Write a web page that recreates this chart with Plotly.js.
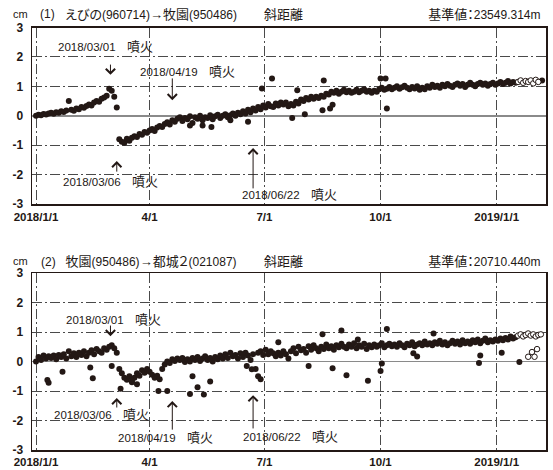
<!DOCTYPE html>
<html><head><meta charset="utf-8">
<script src="https://cdn.plot.ly/plotly-3.0.1.min.js"></script>
<style>
html,body{margin:0;padding:0;background:#fff;}
#chart{width:553px;height:470px;}
#chart text{font-feature-settings:"palt";}
</style>
</head><body><div id="chart"></div>
<script>
// ---- data (cm), observations every STEP_DAYS days starting START ----
const START = [2018, 0, 1];
const STEP_DAYS = 2;

// (1) えびの→牧園 : regular solution values, day 0 .. day 380
const topVals = [
 0.00,0.03,0.02,0.06,0.04,0.08,0.10,0.07,0.12,0.10,0.15,0.13,0.18,0.50,0.20,0.17,0.25,0.22,0.30,0.27,
 0.33,0.38,0.35,0.45,0.50,0.48,0.58,0.62,0.68,0.92,0.85,0.65,0.28,
 -0.80,-0.88,-0.92,-0.78,-0.85,-0.75,-0.70,-0.72,-0.62,-0.65,-0.55,-0.58,-0.50,-0.45,-0.52,-0.40,-0.35,-0.38,
 -0.28,-0.22,-0.30,-0.15,-0.20,-0.10,-0.05,-0.18,-0.08,-0.12,-0.02,-0.25,-0.05,-0.10,0.00,-0.15,-0.05,-0.08,
 0.02,-0.12,-0.02,0.03,-0.08,0.00,0.05,-0.05,0.02,0.08,0.00,0.10,0.05,0.15,0.08,0.20,0.12,0.25,0.18,0.30,0.22,0.35,
 0.28,0.40,0.32,0.30,0.42,0.35,0.45,0.38,0.45,0.32,
 0.40,0.35,0.48,0.42,0.55,0.50,0.60,0.55,0.65,0.58,
 0.65,0.60,0.68,0.65,0.75,0.72,0.82,0.78,0.85,0.75,
 0.82,0.88,0.80,0.85,0.78,0.82,0.88,0.80,0.85,0.90,
 0.82,0.85,0.78,0.85,0.82,0.90,0.95,0.88,0.92,0.98,
 0.90,0.95,1.00,0.92,0.97,1.02,0.95,0.90,0.98,0.93,
 1.00,0.88,0.95,0.90,1.00,0.95,1.05,0.98,1.02,0.95,
 1.05,1.00,1.08,1.02,0.98,1.05,1.10,1.02,1.08,0.98,
 1.05,1.12,1.05,1.00,1.08,1.12,1.05,1.10,1.02,1.08,
 1.12,1.05,1.10,1.15,1.08,1.12,1.18,1.10,1.15,1.12
];
// (1) scattered single days
const topExtraDays = [122,132,139,154,168,179,187,203,207,213,227,228,233,235,273,277,278,401];
const topExtraVals = [-0.33,-0.33,-0.38,-0.15,-0.20,0.93,1.27,-0.08,0.87,0.05,0.19,1.20,0.25,0.37,1.27,1.27,0.25,1.20];
// (1) preliminary (rapid) solutions
const topOpenDays = [382,384,386,388,390,392,394,396,398];
const topOpenVals = [1.15,1.20,1.12,1.18,1.15,1.20,1.10,1.22,1.15];

// (2) 牧園→都城２ : regular solution values, day 0 .. day 380
const botVals = [
 0.00,0.15,0.05,0.20,0.10,0.18,0.12,0.20,0.08,0.22,0.15,0.25,0.10,0.35,0.18,0.28,0.15,0.30,0.22,0.35,
 0.18,0.30,0.38,0.25,0.42,0.35,0.30,0.45,0.40,0.50,0.55,0.45,0.30,
 -0.25,-0.40,-0.55,-0.62,-0.50,-0.70,-0.55,-0.40,-0.48,-0.30,-0.38,-0.25,-0.35,-0.45,-0.55,-0.48,-0.60,-0.25,-0.10,0.00,
 -0.05,0.08,0.02,0.10,0.05,0.12,-0.02,0.08,0.00,0.12,0.05,0.15,0.02,0.10,0.18,0.05,0.12,0.00,0.15,0.08,
 0.20,0.10,0.25,0.12,0.30,0.18,0.22,0.10,0.28,0.15,0.30,0.20,0.05,0.25,-0.25,0.30,0.35,0.22,
 0.40,0.25,0.35,0.28,0.18,0.30,0.20,0.35,0.25,0.10,
 0.35,0.45,0.28,0.50,0.38,0.42,0.30,0.52,0.40,0.55,
 0.45,0.35,0.50,0.42,0.58,0.45,0.52,0.40,0.55,0.48,
 0.60,0.50,0.45,0.58,0.50,0.62,0.45,0.55,0.50,0.60,
 0.42,0.55,0.48,0.58,0.50,0.55,0.62,0.48,0.55,0.60,
 0.52,0.58,0.50,0.62,0.55,0.48,0.60,0.55,0.65,0.52,
 0.58,0.62,0.55,0.68,0.58,0.62,0.55,0.65,0.60,0.70,
 0.58,0.65,0.55,0.62,0.70,0.60,0.68,0.58,0.72,0.62,
 0.68,0.60,0.72,0.65,0.75,0.62,0.70,0.78,0.65,0.72,
 0.68,0.75,0.70,0.78,0.72,0.80,0.75,0.85,0.78,0.82
];
const botExtraDays = [9,10,21,43,45,60,67,76,80,97,104,122,124,128,133,138,167,171,176,178,192,216,227,235,242,246,255,263,273,274,278,299,302,315,351,352,369,383];
const botExtraVals = [-0.63,-0.72,-0.35,-0.20,-0.57,-0.15,-0.92,-0.65,-0.77,-1.00,-1.00,-1.10,-0.50,-0.87,-1.12,-0.68,-0.15,-0.26,-0.50,-0.60,0.65,-0.15,0.92,-0.23,1.05,-0.47,0.75,-0.65,-0.32,-0.07,1.10,0.28,0.17,0.95,-0.05,0.20,0.30,-0.02];
const botOpenDays = [382,384,386,388,390,392,394,396,398,400,390,393,395,397];
const botOpenVals = [0.88,0.92,0.85,0.90,0.95,0.88,0.92,0.85,0.90,0.92,0.16,0.32,0.16,0.42];

// axis labels
const xTickDays = [0, 90, 181, 273, 365];
const xTickText = ['2018/1/1', '4/1', '7/1', '10/1', '2019/1/1'];
const yTickVals = [-3, -2, -1, 0, 1, 2, 3];
const yTickText = ['-3', '-2', '-1', '0', '1', '2', '3'];

// eruption labels: [date text, text-center day, text value, arrow day, arrow tail value, arrow head value]
const topEvents = [
  ['2018/03/01', 54.7, 2.34, 59, 1.79, 1.39],
  ['2018/04/19', 120, 1.49, 108, 1.32, 0.53],
  ['2018/03/06', 59.2, -2.22, 64, -1.95, -1.54],
  ['2018/06/22', 200.9, -2.69, 172, -2.52, -1.10]
];
const botEvents = [
  ['2018/03/01', 61.4, 1.41, 59, 1.27, 0.86],
  ['2018/03/06', 52, -1.81, 64, -1.61, -1.24],
  ['2018/04/19', 103, -2.56, 108, -2.36, -1.34],
  ['2018/06/22', 201.8, -2.53, 172, -2.32, -1.14]
];
const ERUPTION = '噴火';

// ---- helpers ----
const BASE = Date.UTC(START[0], START[1], START[2]);
function dateOf(d) {
  const t = new Date(BASE + d * 86400000);
  return t.toISOString().slice(0, 16).replace('T', ' ');
}
const stepDays = arr => arr.map((_, i) => i * STEP_DAYS);

const INK = '#231815';
const FONT = '"Liberation Sans", Arial, "Noto Sans CJK JP", sans-serif';
const W = 553, H = 470;
const cjk = s => '<span style="font-size:13px">' + s + '</span>';

function solid(days, vals, xa, ya) {
  return {x: days.map(dateOf), y: vals, xaxis: xa, yaxis: ya, type: 'scatter', mode: 'markers',
    marker: {size: 6, color: INK}, hoverinfo: 'skip'};
}
function open(days, vals, xa, ya) {
  return {x: days.map(dateOf), y: vals, xaxis: xa, yaxis: ya, type: 'scatter', mode: 'markers',
    marker: {size: 5.5, color: '#ffffff', line: {color: INK, width: 1}}, hoverinfo: 'skip'};
}

const data = [
  solid(stepDays(topVals), topVals, 'x', 'y'),
  solid(topExtraDays, topExtraVals, 'x', 'y'),
  open(topOpenDays, topOpenVals, 'x', 'y'),
  solid(stepDays(botVals), botVals, 'x2', 'y2'),
  solid(botExtraDays, botExtraVals, 'x2', 'y2'),
  open(botOpenDays, botOpenVals, 'x2', 'y2')
];

const GRID = '#4a4a4a';
const DASH = '10px,3px,2px,3px';
function xaxis(anchor, standoff) {
  return {
    domain: [32 / W, 546 / W], anchor: anchor, type: 'date',
    range: [dateOf(-3.17), dateOf(404.1)],
    tickvals: xTickDays.map(dateOf), ticktext: xTickText,
    showgrid: true, gridcolor: GRID, griddash: DASH, gridwidth: 1,
    showline: true, mirror: true, linecolor: INK, linewidth: 1.5,
    ticks: '', zeroline: false, ticklabelstandoff: standoff,
    tickfont: {family: FONT, size: 11.5, color: INK, weight: 'bold'}
  };
}
function yaxis(anchor, top, bottom) {
  return {
    domain: [1 - bottom / H, 1 - top / H], anchor: anchor, range: [-3, 3],
    tickvals: yTickVals, ticktext: yTickText,
    showgrid: true, gridcolor: GRID, griddash: DASH, gridwidth: 1,
    zeroline: true, zerolinecolor: '#8a8a8a', zerolinewidth: 1.5,
    showline: true, mirror: true, linecolor: INK, linewidth: 1.5,
    ticks: '', ticklabelstandoff: 5,
    tickfont: {family: FONT, size: 12, color: INK, weight: 'bold'}
  };
}

const annotations = [];
function paperText(text, px, py, anchor, size) {
  annotations.push({xref: 'paper', yref: 'paper', x: px / W, y: 1 - py / H, xanchor: anchor, yanchor: 'middle',
    text: text, showarrow: false, font: {family: FONT, size: size || 12, color: INK}});
}
function events(list, xr, yr) {
  list.forEach(e => {
    annotations.push({xref: xr, yref: yr, x: dateOf(e[1]), y: e[2], xanchor: 'center', yanchor: 'middle',
      text: e[0] + '\u2003' + cjk(ERUPTION), showarrow: false, font: {family: FONT, size: 11.5, color: INK}});
    annotations.push({xref: xr, yref: yr, axref: xr, ayref: yr, x: dateOf(e[3]), y: e[5], ax: dateOf(e[3]), ay: e[4],
      text: '', showarrow: true, arrowhead: 4, arrowsize: 1.8, arrowwidth: 1, arrowcolor: INK, standoff: 0, startstandoff: 0});
  });
}

// panel titles
paperText('cm', 20, 14, 'center', 11);
paperText('(1)', 38, 14.5, 'left');
paperText(cjk('えびの') + '(960714)' + cjk('→牧園') + '(950486)', 62, 14.5, 'left');
paperText(cjk('斜距離'), 262, 14.5, 'left');
paperText(cjk('基準値：') + '23549.314m', 546, 14.5, 'right');

paperText('cm', 20, 261, 'center', 11);
paperText('(2)', 39, 261.5, 'left');
paperText(cjk('牧園') + '(950486)' + cjk('→都城２') + '(021087)', 62, 261.5, 'left');
paperText(cjk('斜距離'), 262, 261.5, 'left');
paperText(cjk('基準値：') + '20710.440m', 546, 261.5, 'right');

events(topEvents, 'x', 'y');
events(botEvents, 'x2', 'y2');

const layout = {
  width: W, height: H, margin: {l: 0, r: 0, t: 0, b: 0},
  paper_bgcolor: '#ffffff', plot_bgcolor: '#ffffff', showlegend: false,
  xaxis: xaxis('y', 2), yaxis: yaxis('x', 27.5, 204),
  xaxis2: xaxis('y2', 1), yaxis2: yaxis('x2', 273, 450),
  annotations: annotations
};

Plotly.newPlot('chart', data, layout, {staticPlot: true, displayModeBar: false});
</script>
</body></html>
